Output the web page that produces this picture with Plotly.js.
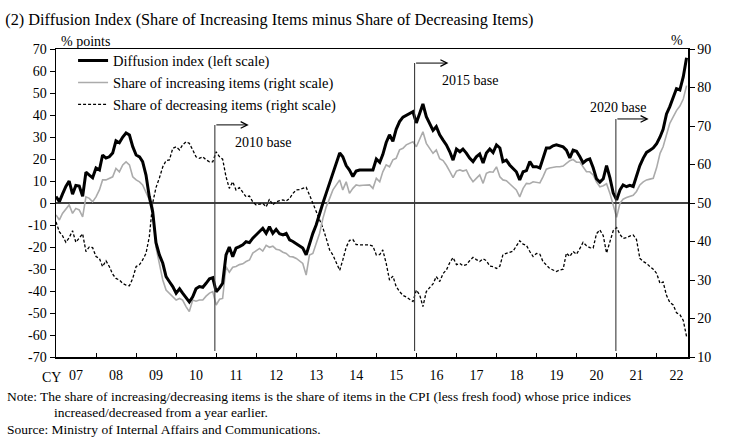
<!DOCTYPE html>
<html>
<head>
<meta charset="utf-8">
<script src="https://cdn.plot.ly/plotly-3.0.1.min.js"></script>
<style>html,body{margin:0;padding:0;background:#fff;}#chart{width:754px;height:446px;}</style>
</head>
<body>
<div id="chart"></div>
<script>
// Monthly data, Jan 2007 - Oct 2022
const startYear = 2007;
const diffusionIndex = [
 2.9, 0.6, 4, 7.5, 10, 4, 8, 7.7, 3, 14, 12.7, 11.5,
 15.9, 15, 21.8, 20.4, 21, 22.7, 28.3, 27.4, 30, 31.8, 30.9, 25.6,
 21.8, 21, 18.8, 12.7, 2.9, -4, -18, -23.6, -27.4, -33.5, -35.8, -38,
 -41, -39, -41, -43.3, -45, -42.6, -39, -38, -38.3, -36.5, -34.5, -34,
 -40.3, -38.6, -36.5, -23.6, -20, -24.4, -20.5, -19.8, -19, -17.6, -18, -16,
 -14.5, -13, -11.5, -13.8, -10.8, -13.8, -12, -14, -14.5, -13.8, -16.8, -17.5,
 -18.5, -19.8, -20.5, -23.6, -18.2, -13.8, -10, -4.5, 0, 4.5, 9, 14.2,
 18, 22.7, 21, 17, 15, 12, 14.5, 15, 15, 15, 15, 15,
 20, 18.5, 22, 27.5, 31, 28, 33.5, 37, 39, 39.8, 40.5, 41.5,
 36.4, 40.9, 45, 39.2, 36.4, 33, 34.7, 31, 28.6, 26.4, 23.3, 19.5,
 24.5, 23.3, 24.5, 22.7, 20.4, 18.8, 21, 22.3, 18.2, 22.7, 24.5, 22.9,
 26.4, 25, 18.8, 19.5, 17.3, 15.9, 14.2, 10.5, 14.2, 14.7, 18.8, 16.5,
 16.5, 15.9, 20.4, 25, 25, 26, 26.4, 26, 25.5, 24, 20.5, 24,
 23.5, 21, 18.2, 19.5, 20, 16, 11, 9.5, 11, 17, 11.4, 4.5,
 1.4, 6, 8.2, 7.4, 8, 7.5, 12, 17, 20.4, 23, 24, 25,
 27, 30, 33.5, 40.5, 43.8, 48.3, 52, 51.4, 57.4, 66
];
const increasingShare = [
 46.9, 45.6, 47.3, 48.5, 49.5, 47.3, 48.6, 48.2, 46.4, 51.6, 51.2, 50.3,
 51.6, 53.4, 56, 56, 56.3, 56.8, 59, 58.1, 59.9, 60.7, 59.9, 56.8,
 56, 55.5, 54.7, 52.9, 50.8, 49, 38.5, 34.5, 30, 27.4, 26.5, 25.7,
 24.8, 25.2, 24.8, 23.1, 21.8, 24.8, 24.5, 24.8, 24.8, 25.8, 26.6, 27,
 23.5, 25, 25.2, 33.5, 32, 33.3, 33.5, 34, 34.2, 34.8, 35.2, 37,
 37.6, 38.2, 37.5, 39, 38.5, 38.8, 38, 37.8, 37.2, 36.9, 36.1, 36,
 35.6, 34.8, 34.3, 31.3, 36.5, 36.9, 39.5, 42.1, 46, 49, 51.2, 53.4,
 54.7, 56, 53.4, 55.5, 52.5, 53.8, 54.7, 54.5, 54.6, 54.6, 54.7, 53.8,
 56.4, 55.5, 58.1, 59.9, 59.4, 61.2, 61.6, 63.8, 64.2, 65.1, 65.5, 65.9,
 64.6, 66.8, 68.5, 65.5, 64.2, 62.9, 63.8, 61.5, 61, 59.8, 58.2, 56.6,
 58.3, 58.6, 58.3, 58.6, 56.8, 55.5, 56.4, 57.3, 55.1, 57.7, 58.1, 58,
 59.4, 56.8, 56, 55.8, 55, 54.2, 53.4, 51.6, 53.8, 55.1, 55, 55.5,
 55.3, 55.2, 56.8, 58.8, 59.1, 59.3, 59.4, 59.4, 59.6, 60.3, 61, 61.3,
 60.6, 60.6, 59.4, 58.1, 58.1, 57.3, 55.5, 54.2, 54.5, 55, 52.5, 49.2,
 46.3, 50, 51, 51.4, 51.7, 52, 53, 54.7, 55.5, 56, 56.2, 56.4,
 59.2, 62.9, 64.6, 68.1, 70.7, 72.4, 74, 75.2, 77, 80.5
];
const decreasingShare = [
 45.1, 42.5, 41.5, 39.8, 41, 42.8, 39.8, 41, 42, 37.4, 38.6, 38.4,
 36.1, 35.6, 33.5, 35, 33.5, 31.5, 30.4, 30, 29.1, 28.7, 28.5, 30.4,
 33.5, 34, 35.2, 36.9, 41.2, 50, 54, 56.5, 59.4, 61, 61.2, 64.2,
 64.6, 63.8, 65.1, 65.9, 65.5, 63.8, 62, 61.6, 62, 61.2, 60.7, 60.7,
 63.3, 62, 61.4, 56.8, 53.8, 55.5, 53.4, 54, 52.8, 51.6, 51.8, 50.3,
 49.5, 49.7, 49.9, 49, 51, 49.5, 50.3, 50.6, 50.8, 50.5, 51.2, 52.5,
 53.4, 53.5, 53.8, 54.1, 52.1, 49.9, 47.7, 45.6, 43.5, 40.8, 37.8, 36.5,
 34.5, 32.5, 35.2, 38.5, 40.3, 40.5, 39.2, 39.1, 39.1, 39.1, 39.1, 38.8,
 36.5, 36.6, 37.8, 34.3, 30, 31, 28.3, 27, 26, 25.6, 25, 24.4,
 27.4, 26.1, 23.1, 27, 28, 29, 30.9, 29.6, 31.7, 32.6, 34.5, 35.8,
 34, 34.3, 33.7, 34, 35, 35.9, 35.3, 34.8, 35.5, 35, 33.6, 33.5,
 33, 33.6, 36.6, 37, 37.2, 37.5, 38.7, 40.2, 39.3, 39, 37.4, 36.1,
 36.9, 36.7, 34.8, 33.8, 33, 32.6, 32.2, 32.6, 32.8, 37, 36.1, 37.4,
 36.7, 38.2, 39.8, 38.9, 38.4, 38.3, 42, 43, 41.5, 37, 39.8, 42.8,
 43.6, 41.8, 40.8, 41, 41.4, 41.7, 40.5, 35.6, 34.8, 34.3, 33.5, 32.8,
 31.7, 29.1, 29.5, 26, 24.2, 23.5, 21.5, 21, 19.5, 15.3
];
const yearLabels = ["07","08","09","10","11","12","13","14","15","16","17","18","19","20","21","22"];
const leftTicks = [-70,-60,-50,-40,-30,-20,-10,0,10,20,30,40,50,60,70];
const rightTicks = [10,20,30,40,50,60,70,80,90];
const baseNames = ["2010 base","2015 base","2020 base"];
const baseDates = ["2010-12-20","2015-12-16","2020-12-25"];
const baseArrowEnd = ["2011-10-25","2016-10-20","2021-10-20"];
const baseArrowLevel = [35.5, 63.6, 38.2];
const baseTextDate = ["2012-03-07","2017-05-01","2021-01-10"];
const baseTextLevel = [27.3, 55.5, 43.6];

const pad = n => (n < 10 ? "0" : "") + n;
const months = diffusionIndex.map((_, i) => (startYear + Math.floor(i / 12)) + "-" + pad(i % 12 + 1) + "-01");
const labelVals = yearLabels.map((_, i) => (startYear + i) + "-07-02");
const yearStarts = yearLabels.slice(1).map((_, i) => (startYear + i + 1) + "-01-01");

const FONT = "Liberation Serif, Times New Roman, serif";

const traces = [
  {x: months, y: decreasingShare, yaxis: "y", type: "scatter", mode: "lines",
   name: "Share of decreasing items (right scale)", legendrank: 3, legendgroup: "c",
   line: {color: "#000", width: 1.3, dash: "3px,2px"}},
  {x: months, y: increasingShare, yaxis: "y", type: "scatter", mode: "lines",
   name: "Share of increasing items (right scale)", legendrank: 2, legendgroup: "b",
   line: {color: "#ababab", width: 1.6}},
  {x: months, y: diffusionIndex, yaxis: "y2", type: "scatter", mode: "lines",
   name: "Diffusion index (left scale)", legendrank: 1, legendgroup: "a",
   line: {color: "#000", width: 3}}
];

const shapes = [
  {type: "line", xref: "paper", x0: 0, x1: 1, yref: "y2", y0: 0, y1: 0, line: {color: "#000", width: 1.4}, layer: "below"}
];
const annotations = [
  {xref: "paper", yref: "paper", x: 0.004, y: 1.025, xanchor: "left", yanchor: "middle", text: "% points", showarrow: false, font: {size: 14}},
  {xref: "paper", yref: "paper", x: 0.983, y: 1.028, xanchor: "center", yanchor: "middle", text: "%", showarrow: false, font: {size: 14}},
  {xref: "paper", yref: "paper", x: 0.011, y: -0.068, xanchor: "right", yanchor: "middle", text: "CY", showarrow: false, font: {size: 14}},
  {xref: "paper", yref: "paper", x: -0.081, y: -0.127, xanchor: "left", yanchor: "middle", showarrow: false, font: {size: 13.5},
   text: "Note: The share of increasing/decreasing items is the share of items in the CPI (less fresh food) whose price indices"},
  {xref: "paper", yref: "paper", x: -0.007, y: -0.179, xanchor: "left", yanchor: "middle", showarrow: false, font: {size: 13.5},
   text: "increased/decreased from a year earlier."},
  {xref: "paper", yref: "paper", x: -0.081, y: -0.237, xanchor: "left", yanchor: "middle", showarrow: false, font: {size: 13.5},
   text: "Source: Ministry of Internal Affairs and Communications."}
];
baseNames.forEach((nm, i) => {
  shapes.push({type: "line", xref: "x", yref: "y2", x0: baseDates[i], x1: baseDates[i], y0: -67.3, y1: baseArrowLevel[i],
               line: {color: "#3a3a3a", width: 1.1}});
  annotations.push({xref: "x", yref: "y2", x: baseArrowEnd[i], y: baseArrowLevel[i], axref: "x", ayref: "y2",
                    ax: baseDates[i], ay: baseArrowLevel[i], text: "", showarrow: true, arrowhead: 5, arrowsize: 1.3,
                    arrowwidth: 1, arrowcolor: "#000"});
  annotations.push({xref: "x", yref: "y2", x: baseTextDate[i], y: baseTextLevel[i], text: nm, showarrow: false,
                    xanchor: "center", yanchor: "middle", font: {size: 14}});
});

const layout = {
  width: 754, height: 446,
  margin: {l: 56, r: 66, t: 49, b: 89},
  paper_bgcolor: "#fff", plot_bgcolor: "#fff",
  font: {family: FONT, color: "#000", size: 14},
  title: {text: "(2) Diffusion Index (Share of Increasing Items minus Share of Decreasing Items)",
          x: 0.007, xanchor: "left", xref: "container", y: 0.957, yanchor: "middle", yref: "container",
          font: {size: 16.3, family: FONT, color: "#000"}},
  showlegend: true,
  legend: {x: 0.027, y: 1.014, xanchor: "left", yanchor: "top", bgcolor: "rgba(0,0,0,0)", borderwidth: 0,
           font: {size: 14.5, family: FONT}, tracegroupgap: 3, traceorder: "normal"},
  xaxis: {type: "date", range: ["2007-01-01", "2022-10-14"], tickmode: "array", tickvals: labelVals, ticktext: yearLabels,
          ticks: "", ticklabelstandoff: 5, showline: true, linecolor: "#000", linewidth: 1.5, mirror: true,
          showgrid: false, zeroline: false, tickfont: {size: 14},
          minor: {tickmode: "array", tickvals: yearStarts, ticks: "inside", ticklen: 4, tickwidth: 1, tickcolor: "#000", showgrid: false}},
  yaxis: {range: [10, 90], side: "right", tickmode: "array", tickvals: rightTicks, ticktext: rightTicks.map(String),
          ticks: "outside", ticklen: 5, tickwidth: 1, tickcolor: "#000", showline: true, linecolor: "#000", linewidth: 1.5,
          showgrid: false, zeroline: false, tickfont: {size: 14}, fixedrange: true},
  yaxis2: {range: [-70, 70], side: "left", overlaying: "y", tickmode: "array", tickvals: leftTicks, ticktext: leftTicks.map(String),
           ticks: "outside", ticklen: 5, tickwidth: 1, tickcolor: "#000", showline: true, linecolor: "#000", linewidth: 1.5,
           showgrid: false, zeroline: false, tickfont: {size: 14}},
  shapes: shapes,
  annotations: annotations
};

Plotly.newPlot("chart", traces, layout, {staticPlot: true, displayModeBar: false});
</script>
</body>
</html>
